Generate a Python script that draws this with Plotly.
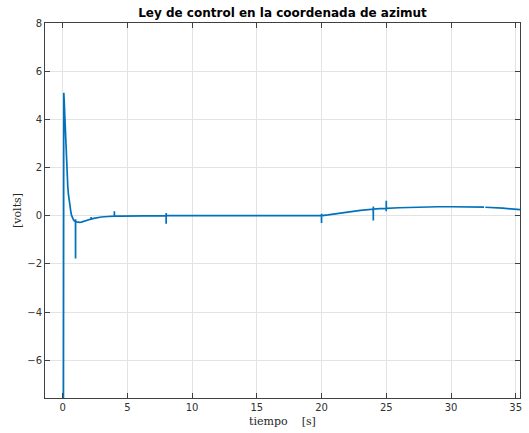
import plotly.graph_objects as go

# Control signal (volts) versus time (s); short triples around an instant
# reproduce the vertical spikes where the integrator restarts
tiempo = [0.0, 0.09, 0.11, 0.13, 0.15, 0.175, 0.2, 0.225, 0.25, 0.275, 0.3,
          0.35, 0.4, 0.45, 0.5, 0.55, 0.6, 0.65, 0.7, 0.75, 0.8, 0.85, 0.9, 0.95,
          0.995, 1.0, 1.002, 1.005,
          1.1, 1.2, 1.3, 1.45, 1.6, 1.8, 2.0,
          2.195, 2.2, 2.202, 2.205,
          2.4, 2.7, 3.0, 3.5,
          3.995, 4.0, 4.002, 4.005,
          4.5, 5.0, 6.0,
          7.995, 8.0, 8.002, 8.005,
          10.0, 15.0,
          19.995, 20.0, 20.002, 20.005,
          20.5, 21.0, 22.0, 23.0,
          23.995, 24.0, 24.002, 24.005,
          24.5,
          24.995, 25.0, 25.002, 25.005,
          26.0, 27.0, 28.0, 29.0, 30.0, 31.0, 32.0, 32.55, None, 32.65,
          33.0, 34.0, 35.4]
volts = [-40.0, 5.1, 4.95, 4.7, 4.4, 4.0, 3.6, 3.2, 2.85, 2.5, 2.15,
         1.6, 1.2, 0.88, 0.62, 0.42, 0.25, 0.11, 0.0, -0.08, -0.14, -0.18, -0.21, -0.23,
         -0.24, -1.78, -0.15, -0.245,
         -0.26, -0.275, -0.28, -0.27, -0.25, -0.21, -0.17,
         -0.14, -0.16, -0.06, -0.14,
         -0.11, -0.08, -0.055, -0.035,
         -0.02, 0.18, -0.05, -0.02,
         -0.015, -0.01, -0.005,
         0.0, -0.34, 0.11, 0.0,
         0.0, 0.0,
         0.0, -0.3, 0.08, 0.0,
         0.03, 0.07, 0.15, 0.22,
         0.27, -0.2, 0.38, 0.27,
         0.29,
         0.3, 0.18, 0.62, 0.3,
         0.33, 0.35, 0.36, 0.37, 0.37, 0.37, 0.36, 0.355, None, 0.35,
         0.345, 0.31, 0.25]

x_ticks = [0, 5, 10, 15, 20, 25, 30, 35]
y_ticks = [-6, -4, -2, 0, 2, 4, 6, 8]

fig = go.Figure()
fig.add_trace(go.Scatter(
    x=tiempo, y=volts, mode="lines",
    line=dict(color="#0072BD", width=1.7),
    connectgaps=False, showlegend=False,
))

axis_common = dict(
    showgrid=True, gridcolor="#e3e3e3", gridwidth=1,
    zeroline=False, showline=True, linecolor="#404040", linewidth=1,
    mirror="ticks", ticks="inside", ticklen=5, tickcolor="#404040",
    tickfont=dict(family="DejaVu Sans", size=10, color="#303030"),
)

fig.update_layout(
    width=529, height=433,
    margin=dict(l=45, r=7, t=23, b=34),
    paper_bgcolor="white", plot_bgcolor="white",
    title=dict(
        text="<b>Ley de control en la coordenada de azimut</b>",
        x=0.5, xref="paper", xanchor="center",
        y=1 - 13 / 433, yref="container", yanchor="middle",
        font=dict(family="DejaVu Sans", size=12, color="black"),
    ),
    xaxis=dict(
        range=[-1.36, 35.33], tickvals=x_ticks,
        title=dict(text="tiempo    [s]", standoff=5,
                   font=dict(family="DejaVu Serif", size=11, color="#262626")),
        **axis_common,
    ),
    yaxis=dict(
        range=[-7.57, 8], tickvals=y_ticks,
        title=dict(text="[volts]", standoff=3,
                   font=dict(family="DejaVu Serif", size=11, color="#262626")),
        **axis_common,
    ),
)

fig.write_html("out.html")
